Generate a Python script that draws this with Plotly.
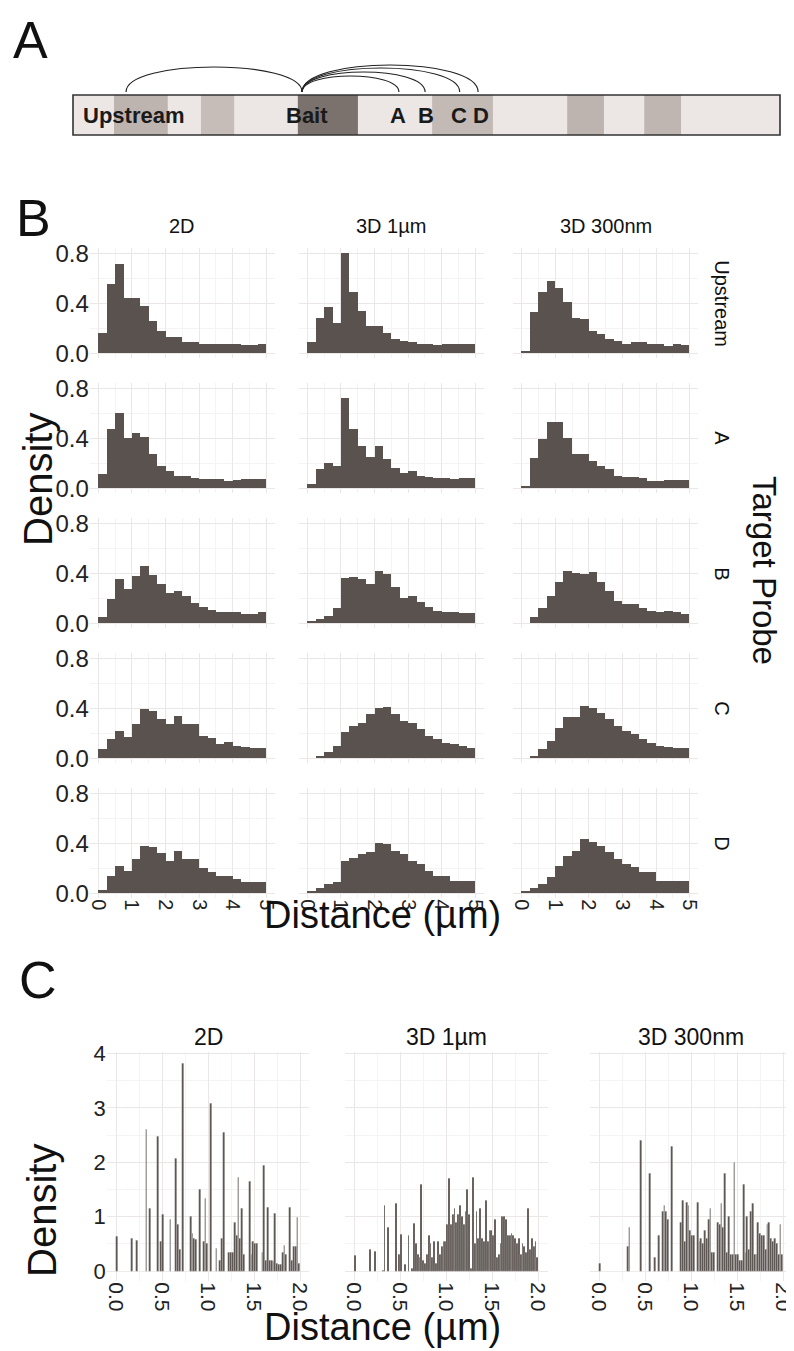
import plotly.graph_objects as go

# the page body adds an 8px margin, so the figure is drawn 8px smaller
# and every reference pixel position is shifted by that offset
W, H = 794, 1351
OFF = 8
FIG_W, FIG_H = W - OFF, H - OFF
FONT = "Liberation Sans, Arial, sans-serif"
BAR = "#59524e"
GRID = "#ebe7e7"
MINOR = "#f5f3f3"

# ---- panel A: schematic of the locus (arbitrary units along a 0-1000 bar)
band_start = [58, 181, 318, 508, 699, 808]
band_end = [134, 228, 403, 594, 751, 860]
band_fill = ["#bdb3af", "#c6bdb9", "#7b716d", "#c3b9b5", "#bdb3af", "#bfb5b1"]
probe_names = ["Upstream", "Bait", "A", "B", "C", "D"]
probe_foot = [75, 324, 461, 498, 547, 573]
probe_label = [86, 331, 460, 499, 546, 577]
arc_top = [68, 68, 59, 63, 67, 70]

# ---- panel B: histograms, bin width 0.25 um
columns = ["2D", "3D 1µm", "3D 300nm"]
probes = ["Upstream", "A", "B", "C", "D"]
b_edges = [i * 0.25 for i in range(20)]

up_2d = [0.16, 0.55, 0.71, 0.44, 0.44, 0.38, 0.26, 0.18, 0.125, 0.125, 0.09, 0.09, 0.07, 0.07, 0.07, 0.075, 0.075, 0.065, 0.065, 0.07]
up_3d1 = [0.09, 0.28, 0.37, 0.24, 0.80, 0.49, 0.34, 0.22, 0.22, 0.16, 0.11, 0.10, 0.085, 0.075, 0.07, 0.065, 0.075, 0.075, 0.07, 0.075]
up_3d300 = [0.01, 0.33, 0.49, 0.58, 0.52, 0.41, 0.28, 0.27, 0.18, 0.15, 0.11, 0.10, 0.075, 0.09, 0.09, 0.07, 0.075, 0.06, 0.075, 0.065]
a_2d = [0.11, 0.47, 0.60, 0.40, 0.44, 0.41, 0.27, 0.18, 0.14, 0.10, 0.10, 0.08, 0.07, 0.07, 0.07, 0.06, 0.065, 0.07, 0.07, 0.07]
a_3d1 = [0.03, 0.15, 0.20, 0.18, 0.72, 0.47, 0.34, 0.25, 0.34, 0.23, 0.16, 0.12, 0.135, 0.10, 0.085, 0.08, 0.08, 0.07, 0.08, 0.08]
a_3d300 = [0.01, 0.24, 0.39, 0.53, 0.53, 0.40, 0.27, 0.27, 0.22, 0.18, 0.15, 0.095, 0.09, 0.09, 0.08, 0.06, 0.06, 0.065, 0.065, 0.065]
b_2d = [0.05, 0.19, 0.35, 0.27, 0.375, 0.46, 0.385, 0.31, 0.24, 0.26, 0.215, 0.16, 0.13, 0.105, 0.085, 0.085, 0.085, 0.07, 0.07, 0.085]
b_3d1 = [0.01, 0.03, 0.06, 0.12, 0.36, 0.37, 0.35, 0.31, 0.42, 0.39, 0.29, 0.20, 0.22, 0.17, 0.13, 0.10, 0.09, 0.09, 0.08, 0.08]
b_3d300 = [0.0, 0.05, 0.12, 0.22, 0.33, 0.42, 0.40, 0.39, 0.41, 0.33, 0.26, 0.18, 0.15, 0.15, 0.12, 0.10, 0.09, 0.10, 0.09, 0.07]
c_2d = [0.07, 0.15, 0.22, 0.17, 0.27, 0.39, 0.38, 0.31, 0.27, 0.34, 0.27, 0.27, 0.18, 0.16, 0.11, 0.13, 0.095, 0.09, 0.077, 0.077]
c_3d1 = [0.0, 0.02, 0.05, 0.10, 0.21, 0.26, 0.28, 0.35, 0.40, 0.41, 0.35, 0.30, 0.28, 0.23, 0.18, 0.15, 0.12, 0.11, 0.10, 0.08]
c_3d300 = [0.0, 0.02, 0.07, 0.14, 0.24, 0.33, 0.33, 0.42, 0.40, 0.36, 0.31, 0.26, 0.22, 0.19, 0.15, 0.12, 0.10, 0.09, 0.08, 0.08]
d_2d = [0.025, 0.135, 0.22, 0.18, 0.275, 0.38, 0.37, 0.32, 0.26, 0.34, 0.275, 0.27, 0.20, 0.165, 0.135, 0.135, 0.11, 0.09, 0.085, 0.085]
d_3d1 = [0.01, 0.04, 0.075, 0.085, 0.26, 0.28, 0.315, 0.33, 0.40, 0.39, 0.335, 0.315, 0.26, 0.23, 0.18, 0.14, 0.14, 0.10, 0.095, 0.095]
d_3d300 = [0.01, 0.04, 0.075, 0.13, 0.215, 0.30, 0.335, 0.43, 0.41, 0.38, 0.33, 0.27, 0.235, 0.21, 0.17, 0.165, 0.10, 0.10, 0.095, 0.095]

b_rows = [
    [up_2d, up_3d1, up_3d300],
    [a_2d, a_3d1, a_3d300],
    [b_2d, b_3d1, b_3d300],
    [c_2d, c_3d1, c_3d300],
    [d_2d, d_3d1, d_3d300],
]

# ---- panel C: bait-bait histograms, bin width 0.02 um
c_edges = [i * 0.02 for i in range(100)]
cc_2d = [0.63, 0, 0, 0, 0, 0, 0, 0, 0.60, 0,
         0, 0.57, 0, 0, 0, 0, 2.60, 0, 1.15, 0,
         0, 0, 2.47, 0, 0.55, 1.05, 0, 0, 0, 0.95,
         0, 0, 2.08, 0.85, 0.40, 0, 3.82, 0, 0, 0,
         1.00, 0.70, 0.60, 0.58, 0, 1.50, 0, 0.55, 1.33, 0.50,
         0, 3.08, 0, 0, 0.42, 0, 0.20, 0.60, 2.55, 0,
         0, 0.35, 0.35, 0.35, 0.90, 0.65, 1.72, 0.60, 1.15, 0.30,
         0, 0, 1.65, 0.30, 0.55, 0.50, 0.50, 0, 0, 0.35,
         1.95, 0.20, 1.18, 0.20, 0.20, 0.18, 1.06, 0.15, 0.12, 0.12,
         0.35, 0.48, 0.30, 0, 1.18, 0.20, 0.45, 0.45, 0.98, 0.15]
cc_3d1 = [0.28, 0, 0, 0, 0, 0, 0, 0, 0.40, 0,
          0, 0.37, 0, 0, 0, 0.02, 1.20, 0, 0.80, 0,
          0, 0, 1.25, 0, 0.30, 0.68, 0, 0.12, 0, 0.65,
          0, 0.05, 0.88, 0.50, 0.30, 0.25, 1.60, 0.20, 0.15, 0.30,
          0.65, 0.50, 0.25, 0.55, 0.15, 0.55, 0.30, 0.45, 0.55, 0.55,
          0.85, 1.70, 0.85, 1.05, 1.15, 0.90, 1.05, 1.20, 1.00, 0.85,
          1.10, 1.50, 1.05, 0.05, 1.72, 0.50, 1.10, 0.60, 1.15, 0.60,
          0.55, 1.30, 0.55, 0.75, 0.75, 0.65, 0.95, 0.25, 0.30, 0.50,
          1.00, 1.00, 0.95, 0.65, 0.65, 0.70, 0.65, 0.60, 0.50, 0.60,
          0.30, 0.50, 0.45, 0.35, 1.15, 0.40, 0.60, 0.45, 0.55, 0.25]
cc_3d300 = [0.15, 0, 0, 0, 0, 0, 0, 0, 0, 0,
            0, 0, 0, 0, 0, 0.45, 0.80, 0, 0, 0,
            0, 0, 2.40, 0, 0, 0, 0, 1.80, 0, 0,
            0.25, 0, 0.65, 0, 1.10, 1.20, 1.10, 0.95, 0, 2.30,
            0, 0, 0, 0, 0.90, 1.30, 0.55, 1.27, 1.20, 0.75,
            0.65, 0.65, 0, 1.27, 0.55, 0.60, 0.50, 0.75, 0.60, 0.95,
            1.15, 0.35, 0.35, 0, 0.90, 0.85, 1.25, 0.80, 1.80, 0.35,
            1.00, 0.30, 0.30, 2.00, 0.30, 0.30, 0.20, 0.20, 1.60, 0.35,
            1.00, 0.40, 1.10, 1.25, 0.30, 0.30, 0.90, 0.70, 0.65, 0.65,
            0.40, 0.85, 0.90, 0.60, 0.55, 0.60, 0.50, 0.30, 0.85, 0.30]
c_cols = [cc_2d, cc_3d1, cc_3d300]


def px_x(p):
    return (p - OFF) / FIG_W


def px_y(p):
    return 1 - (p - OFF) / FIG_H


fig = go.Figure()
layout = {}
shapes = []
annotations = []


def note(text, x, y, size, angle=0, color="#111"):
    annotations.append(dict(text=text, x=px_x(x), y=px_y(y), xref="paper", yref="paper",
                            xanchor="center", yanchor="middle", showarrow=False, textangle=angle,
                            font=dict(family=FONT, size=size, color=color)))


# ---------------- panel A (bar spans page px 73..780)
layout["xaxis"] = dict(domain=[0, 1],
                       range=[(OFF - 73) / 707 * 1000, (OFF + FIG_W - 73) / 707 * 1000],
                       visible=False, automargin=False)
layout["yaxis"] = dict(domain=[px_y(140), px_y(40)], range=[-5, 95], visible=False, automargin=False)
fig.add_trace(go.Scatter(x=[], y=[], xaxis="x", yaxis="y", showlegend=False))

shapes.append(dict(type="rect", xref="x", yref="y", x0=0, x1=1000, y0=0, y1=40,
                   fillcolor="#ece7e5", line=dict(width=0), layer="below"))
for s, e, f in zip(band_start, band_end, band_fill):
    shapes.append(dict(type="rect", xref="x", yref="y", x0=s, x1=e, y0=0, y1=40,
                       fillcolor=f, line=dict(width=0)))
shapes.append(dict(type="rect", xref="x", yref="y", x0=0, x1=1000, y0=0, y1=40,
                   line=dict(color="#333", width=1.6)))

foot = 43
bait = probe_foot[1]
for i, name in enumerate(probe_names):
    if name == "Bait":
        continue
    ctrl = foot + (arc_top[i] - foot) / 0.75
    x0, x1 = sorted([probe_foot[i], bait])
    shapes.append(dict(type="path", xref="x", yref="y",
                       path=f"M {x0},{foot} C {x0},{ctrl} {x1},{ctrl} {x1},{foot}",
                       line=dict(color="#222", width=1.2)))
for name, xl in zip(probe_names, probe_label):
    annotations.append(dict(text=f"<b>{name}</b>", x=xl, y=19, xref="x", yref="y", showarrow=False,
                            xanchor="center", yanchor="middle",
                            font=dict(family=FONT, size=22, color="#1a1a1a")))

note("A", 30, 40, 52)
note("B", 33, 218, 52)
note("C", 38, 980, 52)

# ---------------- panel B
B_COL_ZERO = [98.3, 307.3, 521.7]
B_SX = 33.6
B_ROW_ZERO = [353.3 + 135 * k for k in range(5)]
B_SY = 125
B_XR = [-0.25, 5.25]
B_YR = [-0.04, 0.84]

for r in range(5):
    for c in range(3):
        n = 2 + r * 3 + c
        z, y0 = B_COL_ZERO[c], B_ROW_ZERO[r]
        layout[f"xaxis{n}"] = dict(
            domain=[px_x(z + B_XR[0] * B_SX), px_x(z + B_XR[1] * B_SX)], range=B_XR,
            anchor=f"y{n}", tickvals=[0, 1, 2, 3, 4, 5], showticklabels=(r == 4), tickangle=90,
            tickfont=dict(family=FONT, size=20, color="#222"), ticks="", zeroline=False,
            ticklabeloverflow="allow", automargin=False,
            showgrid=True, gridcolor=GRID, gridwidth=0.8,
            minor=dict(tick0=0, dtick=0.5, showgrid=True, gridcolor=MINOR, gridwidth=0.6))
        layout[f"yaxis{n}"] = dict(
            domain=[px_y(y0 - B_YR[0] * B_SY), px_y(y0 - B_YR[1] * B_SY)], range=B_YR,
            anchor=f"x{n}", tickvals=[0, 0.4, 0.8], ticktext=["0.0", "0.4", "0.8"],
            showticklabels=(c == 0), tickfont=dict(family=FONT, size=24, color="#222"), ticks="",
            zeroline=False, automargin=False, showgrid=True, gridcolor=GRID, gridwidth=0.8,
            minor=dict(tick0=0, dtick=0.2, showgrid=True, gridcolor=MINOR, gridwidth=0.6))
        fig.add_trace(go.Bar(x=b_edges, y=b_rows[r][c], width=0.25, offset=0,
                             marker=dict(color=BAR, line=dict(width=0)),
                             xaxis=f"x{n}", yaxis=f"y{n}", showlegend=False))

for c, name in enumerate(columns):
    note(name, B_COL_ZERO[c] + 2.5 * B_SX, 226, 20)
for r, name in enumerate(probes):
    note(name, 722, B_ROW_ZERO[r] - 0.4 * B_SY, 20, angle=90)
note("Target Probe", 765, 570, 33, angle=90)
note("Density", 38, 480, 40, angle=-90)
note("Distance (µm)", 382, 915, 38)

# ---------------- panel C
C_COL_ZERO = [116, 354.3, 599]
C_SX = 92
C_Y0 = 1271
C_SY = 54.4
C_XR = [-0.1, 2.1]
C_YR = [-0.19, 4.02]

for c in range(3):
    n = 17 + c
    z = C_COL_ZERO[c]
    layout[f"xaxis{n}"] = dict(
        domain=[px_x(z + C_XR[0] * C_SX), min(1, px_x(z + C_XR[1] * C_SX))], range=C_XR,
        anchor=f"y{n}", tickvals=[0, 0.5, 1, 1.5, 2], ticktext=["0.0", "0.5", "1.0", "1.5", "2.0"],
        tickangle=90, tickfont=dict(family=FONT, size=21, color="#222"), ticks="", zeroline=False,
        ticklabeloverflow="allow", automargin=False,
        showgrid=True, gridcolor=GRID, gridwidth=0.8,
        minor=dict(tick0=0, dtick=0.25, showgrid=True, gridcolor=MINOR, gridwidth=0.6))
    layout[f"yaxis{n}"] = dict(
        domain=[px_y(C_Y0 - C_YR[0] * C_SY), px_y(C_Y0 - C_YR[1] * C_SY)], range=C_YR,
        anchor=f"x{n}", tickvals=[0, 1, 2, 3, 4], showticklabels=(c == 0),
        tickfont=dict(family=FONT, size=22, color="#222"), ticks="", zeroline=False,
        automargin=False, showgrid=True, gridcolor=GRID, gridwidth=0.8,
        minor=dict(tick0=0, dtick=0.5, showgrid=True, gridcolor=MINOR, gridwidth=0.6))
    fig.add_trace(go.Bar(x=c_edges, y=c_cols[c], width=0.02, offset=0,
                         marker=dict(color=BAR, line=dict(color="white", width=0.2)),
                         xaxis=f"x{n}", yaxis=f"y{n}", showlegend=False))

for c, name in enumerate(columns):
    note(name, C_COL_ZERO[c] + 1.0 * C_SX, 1037, 23)
note("Density", 42, 1211, 40, angle=-90)
note("Distance (µm)", 382, 1327, 38)

fig.update_layout(
    width=FIG_W, height=FIG_H, margin=dict(l=0, r=0, t=0, b=0, autoexpand=False),
    paper_bgcolor="white", plot_bgcolor="white", showlegend=False,
    font=dict(family=FONT), bargap=0,
    shapes=shapes, annotations=annotations, **layout)

fig.write_html("out.html")
